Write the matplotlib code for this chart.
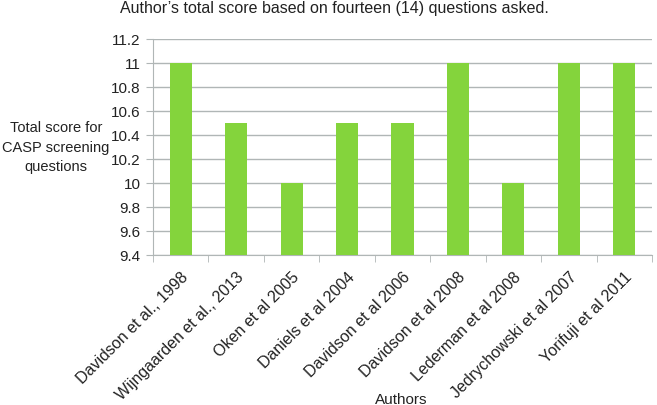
import matplotlib
matplotlib.use("Agg")
import matplotlib.pyplot as plt
import numpy as np

authors = ["Davidson et al., 1998", "Wijngaarden et al., 2013", "Oken et al 2005",
           "Daniels et al 2004", "Davidson et al 2006", "Davidson et al 2008",
           "Lederman et al 2008", "Jedrychowski et al 2007", "Yorifuji et al 2011"]
scores = [11, 10.5, 10, 10.5, 10.5, 11, 10, 11, 11]
yticks = [9.4, 9.6, 9.8, 10, 10.2, 10.4, 10.6, 10.8, 11, 11.2]
ytick_labels = ["9.4", "9.6", "9.8", "10", "10.2", "10.4", "10.6", "10.8", "11", "11.2"]

plt.rcParams['font.family'] = ['Liberation Sans', 'DejaVu Sans']
fig = plt.figure(figsize=(6.57, 4.06), dpi=100)
ax = fig.add_axes([153 / 657, 1 - 256 / 406, 499 / 657, 216.5 / 406])

grid_c = "#b0b6b6"
x = np.arange(len(authors))
ax.bar(x, [s - 9.4 for s in scores], bottom=9.4, width=0.4, color="#84d43c", zorder=3)
ax.set_ylim(9.4, 11.2)
ax.set_xlim(-0.5, len(authors) - 0.5)
ax.set_yticks(yticks)
ax.set_yticklabels(ytick_labels, fontsize=11, color="#222222")
ax.yaxis.grid(True, color=grid_c, linewidth=1)
ax.set_axisbelow(True)
ax.set_xticks(x)
ax.set_xticklabels(authors, rotation=45, ha="right", rotation_mode="anchor", fontsize=11.5,
                   color="#222222")
ax.tick_params(axis="x", length=0, pad=10)
ax.set_xticks(np.arange(-0.5, len(authors), 1), minor=True)
ax.tick_params(axis="x", which="minor", length=5, color=grid_c)
ax.tick_params(axis="y", length=5, color=grid_c, pad=4)
for s in ["top", "right"]:
    ax.spines[s].set_visible(False)
for s in ["left", "bottom"]:
    ax.spines[s].set_color(grid_c)

fig.text(334 / 657, 1 - 8 / 406, "Author\u2019s total score based on fourteen (14) questions asked.",
         ha="center", va="center", fontsize=11.5, color="#222222")
fig.text(56 / 657, 1 - 148 / 406, "Total score for\nCASP screening\nquestions", ha="center",
         va="center", fontsize=10.5, linespacing=1.5, color="#222222")
fig.text(401 / 657, 1 - 400 / 406, "Authors", ha="center", va="center", fontsize=11,
         color="#222222")

fig.savefig("out.png", dpi=100)
